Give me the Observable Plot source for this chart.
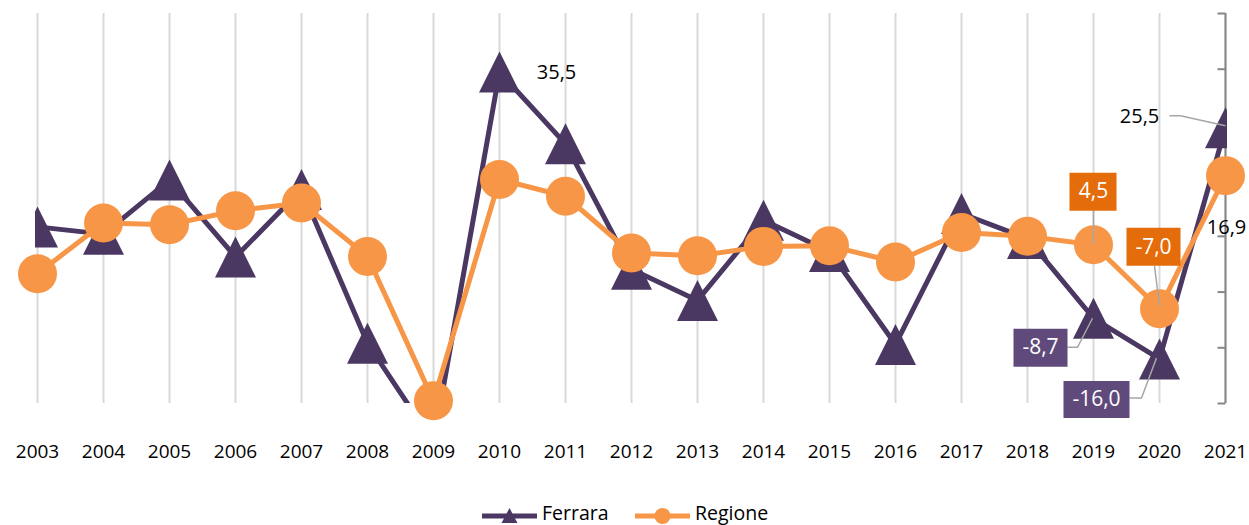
<!DOCTYPE html>
<html><head><meta charset="utf-8">
<script src="https://cdn.jsdelivr.net/npm/d3@7"></script>
<script src="https://cdn.jsdelivr.net/npm/@observablehq/plot@0.6"></script>
<style>
body{margin:0;background:#fff;font-family:"Open Sans",sans-serif;}
#legend{width:1249px;height:35px;}
</style>
</head><body>
<div id="chart"></div>
<div id="legend"></div>
<script>
const years = ["2003","2004","2005","2006","2007","2008","2009","2010","2011","2012","2013","2014","2015","2016","2017","2018","2019","2020","2021"];
const ferrara = [7.7, 6.4, 16.1, 2.3, 14.4, -13.2, -31.0, 35.5, 22.6, 0.1, -5.5, 8.9, 3.3, -13.4, 10.1, 5.6, -8.7, -16.0, 25.5];
const regione = [-0.7, 8.4, 8.1, 10.6, 12.0, 2.4, -23.5, 16.2, 13.2, 3.0, 2.5, 4.2, 4.3, 1.4, 6.7, 6.0, 4.5, -7.0, 16.9];
const seriesNames = ["Ferrara", "Regione"];
const yTicks = [-24, -14, -4, 6, 16, 26, 36, 46];

const PURPLE = "#4B3862", ORANGE = "#F79646", BOX_OR = "#E46C0A", BOX_PU = "#604A7B", GRAY = "#A6A6A6";

const fer = years.map((y, i) => ({year: y, value: ferrara[i]}));
const reg = years.map((y, i) => ({year: y, value: regione[i]}));
const fmt = v => v.toFixed(1).replace(".", ",");

function pathSym(pts, close) {
  return {draw(ctx) {
    ctx.moveTo(pts[0][0], pts[0][1]);
    for (let i = 1; i < pts.length; i++) ctx.lineTo(pts[i][0], pts[i][1]);
    if (close) ctx.closePath();
  }};
}
const tri = pathSym([[0, -20.5], [20.5, 20.5], [-20.5, 20.5]], true);
const tickSym = pathSym([[-8, 0], [0, 0]], false);

// annotation layout (pixel offsets relative to the data point)
const boxed = [
  {src: reg, year: "2019", box: [-24, -72, 23, -34], text: [0, -53], leader: [[0, -34], [0, 0]], fill: BOX_OR},
  {src: reg, year: "2020", box: [-33, -81, 21, -43], text: [-6, -62], leader: [[-5, -43], [0, -3]], fill: BOX_OR},
  {src: fer, year: "2019", box: [-80, 10.5, -26, 48.5], text: [-53, 29.5], leader: [[-26, 29], [-16, 29], [-1, 0]], fill: BOX_PU},
  {src: fer, year: "2020", box: [-96, 22, -30, 59], text: [-63, 40.5], leader: [[-30, 39], [-18, 39], [-3, -1]], fill: BOX_PU}
];
const plain = [
  {src: fer, year: "2010", text: [57, 1]},
  {src: fer, year: "2021", text: [-86, -11], leader: [[-56, -12], [-45, -12], [0, -2]]},
  {src: reg, year: "2021", text: [1, 52]}
];

const annMarks = [];
for (const a of plain) {
  const d = a.src.filter(p => p.year === a.year);
  if (a.leader) annMarks.push(Plot.dot(d, {x: "year", y: "value", r: 1, symbol: pathSym(a.leader, false), fill: "none", stroke: GRAY, strokeWidth: 1.5}));
  annMarks.push(Plot.text(d, {x: "year", y: "value", text: p => fmt(p.value), dx: a.text[0], dy: a.text[1], fill: "black", fontSize: 20}));
}
for (const a of boxed) {
  const d = a.src.filter(p => p.year === a.year);
  const [x0, y0, x1, y1] = a.box;
  annMarks.push(Plot.dot(d, {x: "year", y: "value", r: 1, symbol: pathSym(a.leader, false), fill: "none", stroke: GRAY, strokeWidth: 1.5}));
  annMarks.push(Plot.dot(d, {x: "year", y: "value", r: 1, symbol: pathSym([[x0, y0], [x1, y0], [x1, y1], [x0, y1]], true), fill: a.fill, stroke: "none"}));
  annMarks.push(Plot.text(d, {x: "year", y: "value", text: p => fmt(p.value), dx: a.text[0], dy: a.text[1], fill: "white", fontSize: 21}));
}

const chart = Plot.plot({
  width: 1249, height: 490,
  marginTop: 13, marginBottom: 87, marginLeft: 35, marginRight: 22,
  x: {type: "point", domain: years, padding: 0},
  y: {domain: [-24, 46], axis: null},
  style: {fontFamily: "'Open Sans', sans-serif", fontSize: "19px", color: "black", background: "white"},
  marks: [
    Plot.ruleX(years, {x: d => d, y1: -24, y2: 46, stroke: "#D9D9D9", strokeWidth: 2}),
    Plot.ruleX([years[years.length - 1]], {x: d => d, y1: -24, y2: 46, stroke: "#868686", strokeWidth: 2}),
    Plot.dot(yTicks, {x: () => years[years.length - 1], y: d => d, r: 1, symbol: tickSym, fill: "none", stroke: "#868686", strokeWidth: 2}),
    Plot.axisX({anchor: "bottom", tickSize: 0, tickPadding: 41, fontSize: 19}),
    Plot.ruleY([0], {x1: years[0], x2: years[years.length - 1], stroke: "black", strokeWidth: 4}),
    Plot.line(fer, {x: "year", y: "value", stroke: PURPLE, strokeWidth: 5, clip: true}),
    Plot.dot(fer, {x: "year", y: "value", r: 10, symbol: tri, fill: PURPLE, stroke: "none", clip: true}),
    Plot.line(reg, {x: "year", y: "value", stroke: ORANGE, strokeWidth: 5}),
    Plot.dot(reg, {x: "year", y: "value", r: 19.5, fill: ORANGE, stroke: "none"}),
    ...annMarks
  ]
});
document.getElementById("chart").appendChild(chart);

// legend
const lg = d3.select("#legend").append("svg").attr("width", 1249).attr("height", 35);
const items = [
  {name: seriesNames[0], color: PURPLE, x: 482, shape: "tri"},
  {name: seriesNames[1], color: ORANGE, x: 635, shape: "circle"}
];
for (const it of items) {
  const g = lg.append("g");
  g.append("line").attr("x1", it.x).attr("x2", it.x + 55).attr("y1", 26).attr("y2", 26)
    .attr("stroke", it.color).attr("stroke-width", 5);
  if (it.shape === "tri") {
    const cx = it.x + 27.5;
    g.append("path").attr("d", `M${cx},18L${cx + 8},33L${cx - 8},33Z`).attr("fill", it.color);
  } else {
    g.append("circle").attr("cx", it.x + 27.5).attr("cy", 26).attr("r", 8).attr("fill", it.color);
  }
  g.append("text").attr("x", it.x + 60).attr("y", 29.5).attr("font-size", 19.5)
    .attr("font-family", "'Open Sans', sans-serif").attr("fill", "black").text(it.name);
}
</script>
</body></html>
